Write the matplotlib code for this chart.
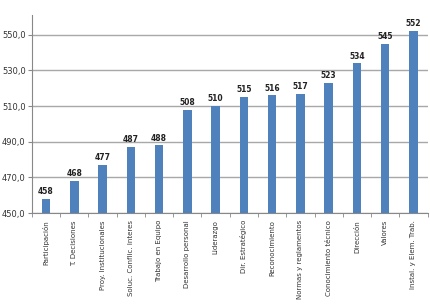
import matplotlib.pyplot as plt
import numpy as np

categorias = ["Participación", "T. Decisiones", "Proy. Institucionales",
              "Soluc. Conflic. Interes", "Trabajo en Equipo", "Desarrollo personal",
              "Liderazgo", "Dir. Estratégico", "Reconocimiento",
              "Normas y reglamentos", "Conocimiento técnico", "Dirección",
              "Valores", "Instal. y Elem. Trab."]
valores = [458, 468, 477, 487, 488, 508, 510, 515, 516, 517, 523, 534, 545, 552]
yticks = [450, 470, 490, 510, 530, 550]

fig = plt.figure(figsize=(4.31, 3.07), dpi=100)
ax = fig.add_axes([0.074, 0.306, 0.918, 0.645])

x = np.arange(len(categorias))
ax.bar(x, valores, width=0.3, color='#4F81BD', zorder=3)
for xi, v in zip(x, valores):
    ax.text(xi, v + 1.5, str(v), ha='center', va='bottom', fontsize=5.5,
            fontweight='bold', color='#222222')

ax.set_ylim(450, 561)
ax.set_xlim(-0.5, len(categorias) - 0.5)
ax.set_yticks(yticks)
ax.set_yticklabels([f"{t},0" for t in yticks], fontsize=6, color='#333333')
ax.set_xticks(x)
ax.set_xticklabels(categorias, rotation=90, fontsize=5, color='#333333')
ax.tick_params(axis='x', length=0, pad=5)
ax.set_xticks(np.arange(len(categorias) + 1) - 0.5, minor=True)
ax.tick_params(axis='x', which='minor', length=3, color='#888888')
ax.tick_params(axis='y', length=3, pad=1.5, color='#888888')
ax.grid(axis='y', color='#A8A8A8', linewidth=1.0, zorder=0)

for s in ['top', 'right']:
    ax.spines[s].set_visible(False)
ax.spines['left'].set_color('#888888')
ax.spines['bottom'].set_color('#888888')

fig.savefig('out.png', dpi=100)
